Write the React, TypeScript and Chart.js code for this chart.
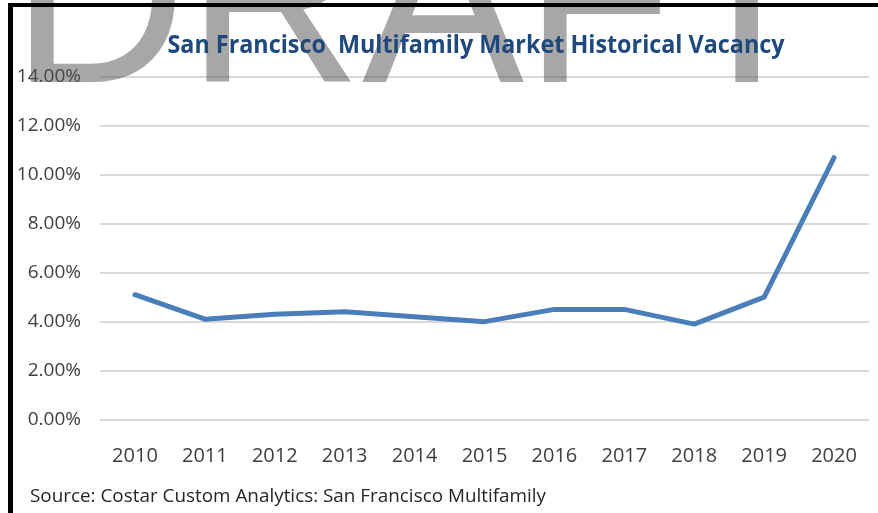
import React, { useEffect, useRef } from "react";
import { Chart, registerables } from "chart.js";

Chart.register(...registerables);

const years = ["2010", "2011", "2012", "2013", "2014", "2015", "2016", "2017", "2018", "2019", "2020"];
const vacancy = [5.1, 4.1, 4.3, 4.4, 4.2, 4.0, 4.5, 4.5, 3.9, 5.0, 10.7];
const titleText = "San Francisco  Multifamily Market Historical Vacancy";
const sourceText = "Source: Costar Custom Analytics: San Francisco Multifamily";
const watermarkText = "DRAFT";

const W = 878;
const H = 513;

const overlayPlugin = {
  id: "overlay",
  afterDraw(chart: any) {
    const ctx = chart.ctx as CanvasRenderingContext2D;
    ctx.save();
    // watermark (semi-transparent)
    ctx.fillStyle = "rgba(80,80,80,0.5)";
    ctx.font = '243px "Liberation Sans", Arial, sans-serif';
    ctx.textAlign = "left";
    ctx.textBaseline = "alphabetic";
    ctx.fillText(watermarkText, 11, 82);
    // border (top and left)
    ctx.fillStyle = "#000000";
    ctx.fillRect(8, 3, W - 8, 4);
    ctx.fillRect(8, 3, 5, H - 3);
    // title
    ctx.fillStyle = "#1f497d";
    ctx.font = 'bold 25px "Open Sans", sans-serif';
    ctx.textAlign = "center";
    ctx.fillText(titleText, 476, 53, 617);
    // source
    ctx.fillStyle = "#262626";
    ctx.font = '19px "Open Sans", sans-serif';
    ctx.textAlign = "left";
    ctx.fillText(sourceText, 30, 502, 516);
    ctx.restore();
  },
};

export default function App() {
  const ref = useRef<HTMLCanvasElement>(null);
  useEffect(() => {
    if (!ref.current) return;
    const chart = new Chart(ref.current, {
      type: "line",
      data: {
        labels: years,
        datasets: [
          {
            label: "Vacancy",
            data: vacancy,
            borderColor: "#4a7ebb",
            borderWidth: 5,
            pointRadius: 0,
            tension: 0,
            borderCapStyle: "round",
            borderJoinStyle: "round",
            fill: false,
          },
        ],
      },
      options: {
        responsive: false,
        animation: false,
        layout: { padding: { left: 0, top: 77, right: 9, bottom: 0 } },
        plugins: {
          legend: { display: false },
          title: { display: false },
          tooltip: { enabled: false },
        },
        scales: {
          x: {
            offset: true,
            grid: { display: false },
            border: { display: false },
            ticks: {
              padding: 17,
              color: "#404040",
              font: { family: '"Open Sans", sans-serif', size: 20 },
              maxRotation: 0,
            },
            afterFit: (s: any) => {
              s.height = 93.5;
            },
          },
          y: {
            min: 0,
            max: 14,
            grid: { color: "#d9d9d9", lineWidth: 2, drawTicks: false },
            border: { display: false },
            ticks: {
              stepSize: 2,
              padding: 19,
              color: "#404040",
              font: { family: '"Open Sans", sans-serif', size: 19 },
              callback: (v: any) => Number(v).toFixed(2) + "%",
            },
            afterFit: (s: any) => {
              s.width = 100;
            },
          },
        },
      },
      plugins: [overlayPlugin],
    });
    return () => chart.destroy();
  }, []);
  return (
    <div style={{ position: "fixed", left: 0, top: 0, width: W, height: H, background: "#fff" }}>
      <canvas ref={ref} width={W} height={H} />
    </div>
  );
}
